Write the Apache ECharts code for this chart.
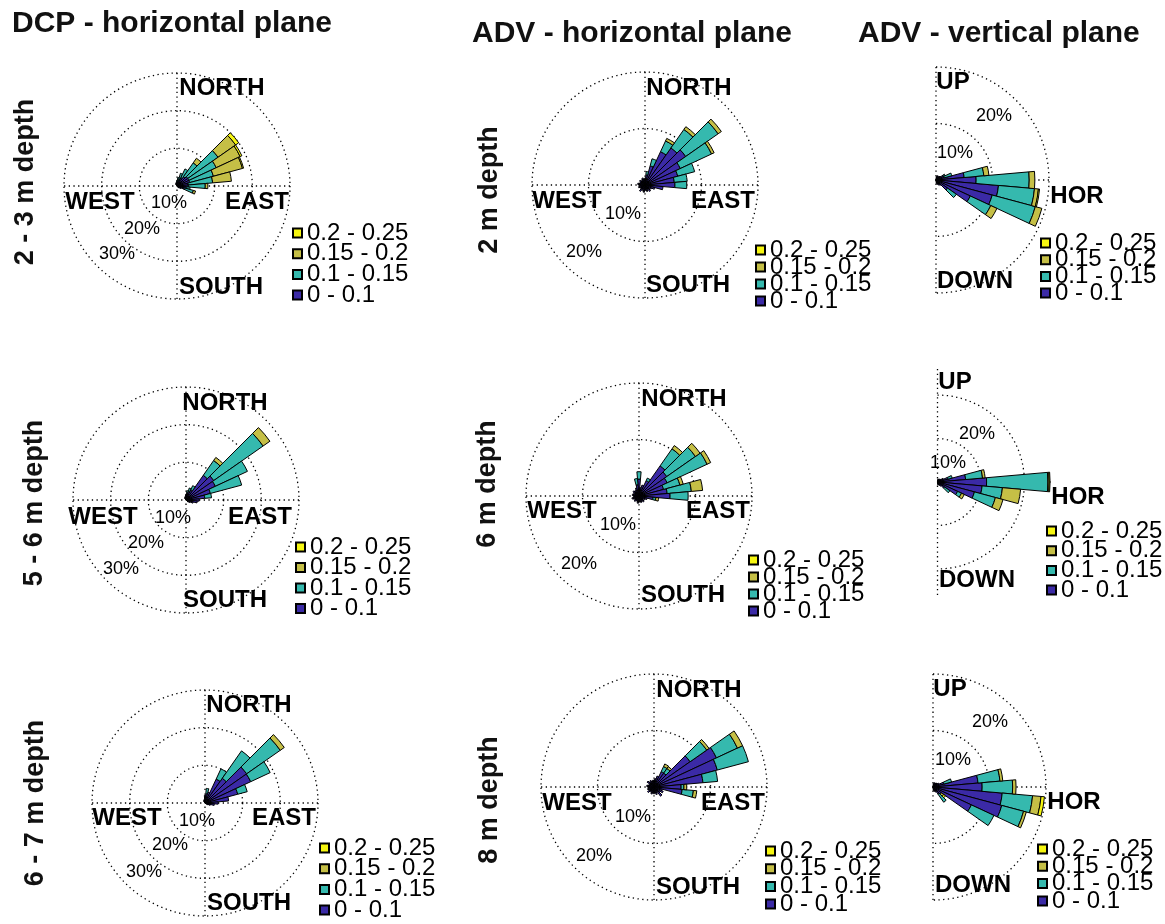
<!DOCTYPE html>
<html><head><meta charset="utf-8">
<script src="https://cdn.jsdelivr.net/npm/echarts@6/dist/echarts.min.js"></script>
<style>html,body{margin:0;padding:0;background:#fff}#c{width:1165px;height:924px}</style>
</head><body><div id="c"></div>
<script>
// ---------- data ----------
const speedClasses = ['0 - 0.1', '0.1 - 0.15', '0.15 - 0.2', '0.2 - 0.25'];
const legendOrder = ['0.2 - 0.25', '0.15 - 0.2', '0.1 - 0.15', '0 - 0.1'];
const dirCategories = [0,10,20,30,40,50,60,70,80,90,100,110,120,130,140,150,160,170,180,190,200,210,220,230,240,250,260,270,280,290,300,310,320,330,340,350];
const allDirs = dirCategories;
const halfDirs = [10,20,30,40,50,60,70,80,90,100,110,120,130,140,150,160,170];

// Panel 1: DCP 2-3 m (horizontal)
const dcp23Dirs = [330,340,350,0,10,20,30,40,50,60,70,80,90,100,110,120,130,140];
const dcp23Slow = [0.6,0.8,1.0,1.2,1.5,2.0,2.5,3.0,3.5,3.5,3.5,3.0,3.0,2.5,2.0,1.2,0.8,0.6];
const dcp23Mid  = [0,0,0,0.3,0.8,1.5,2.5,4.5,9.8,8.0,6.5,6.5,4.5,1.0,2.5,0,0,0];
const dcp23Fast = [0,0,0,0,0,0,0,1.5,5.7,7.0,8.0,5.0,0.7,0,0.6,0,0,0];
const dcp23Top  = [0,0,0,0,0,0,0,0,1.0,0.5,0.3,0,0,0,0,0,0,0];

// Panel 2: ADV 2 m (horizontal)
const advH2Slow = [1.2,1.8,3.5,6.5,8.0,8.8,6.9,6.0,5.2,5.3,3.2,1.8,1.3,1.0,1.4,0.9,1.2,0.8,1.0,1.3,0.8,1.1,1.4,0.9,1.0,1.2,0.8,1.1,1.3,0.9,1.0,1.2,0.8,1.1,1.3,0.9];
const advH2Mid  = [0,0.6,1.3,2.1,4.0,7.0,6.1,3.1,2.3,2.1,0,0,0,0,0,0,0,0,0,0,0,0,0,0,0,0,0,0,0,0,0,0,0,0,0,0];
const advH2Fast = [0,0,0,0.5,0.6,0.7,0.5,0,0,0,0,0,0,0,0,0,0,0,0,0,0,0,0,0,0,0,0,0,0,0,0,0,0,0,0,0];
const advH2Top  = [0,0,0,0,0,0,0,0,0,0,0,0,0,0,0,0,0,0,0,0,0,0,0,0,0,0,0,0,0,0,0,0,0,0,0,0];

// Panel 3: ADV 2 m (vertical, 0 = up, 90 = horizontal, 180 = down)
const advV2Slow = [0.6,0.8,0.7,0.8,1.0,1.5,1.5,5.0,7.1,11.1,10.3,6.7,2.5,1.2,1.0,0.8,0.6];
const advV2Mid  = [0,0,0,0,0,0.3,1.4,3.5,9.4,6.4,7.9,4.0,1.9,0,0,0,0];
const advV2Fast = [0,0,0,0,0,0,0,0.9,1.0,0.7,1.2,1.2,0,0,0,0,0];
const advV2Top  = [0,0,0,0,0,0,0,0,0,0.2,0,0,0,0,0,0,0];

// Panel 4: DCP 5-6 m
const dcp56Dirs = [330,340,350,0,10,20,30,40,50,60,70,80,90,100,110,120,130];
const dcp56Slow = [0.6,0.8,1.0,1.5,2.0,2.5,3.0,8.0,9.0,8.6,6.7,5.0,3.5,3.0,2.0,1.2,0.8];
const dcp56Mid  = [0,0,0,0,0.5,0.8,1.2,4.8,16.0,9.4,8.6,1.8,0,0,0,0,0];
const dcp56Fast = [0,0,0,0,0,0,0,1.0,2.2,0,0,0,0,0,0,0,0];
const dcp56Top  = [0,0,0,0,0,0,0,0,0,0,0,0,0,0,0,0,0];

// Panel 5: ADV 6 m (horizontal)
const advH6Slow = [3.0,1.5,2.0,3.0,6.5,6.0,5.5,4.5,5.0,5.5,2.5,1.5,1.2,0.9,1.3,1.0,1.2,0.8,1.1,1.3,0.9,1.0,1.2,0.8,1.1,1.3,0.9,1.0,1.2,0.8,1.1,1.3,1.0,1.2,1.5,2.0];
const advH6Mid  = [1.3,0,0,0.5,3.7,6.2,7.8,3.0,4.3,3.2,0.5,0,0,0,0,0,0,0,0,0,0,0,0,0,0,0,0,0,0,0,0,0,0,0,0,1.1];
const advH6Fast = [0,0,0,0,0.7,1.0,0.7,0.6,2.0,0,0.5,0,0,0,0,0,0,0,0,0,0,0,0,0,0,0,0,0,0,0,0,0,0,0,0,0];
const advH6Top  = [0,0,0,0,0,0,0,0,0,0,0,0,0,0,0,0,0,0,0,0,0,0,0,0,0,0,0,0,0,0,0,0,0,0,0,0];

// Panel 6: ADV 6 m (vertical)
const advV6Slow = [0.6,0.7,0.8,0.7,1.0,1.5,2.5,6.5,11.3,10.3,8.8,5.1,2.0,1.2,0.9,0.7,0.6];
const advV6Mid  = [0,0,0,0,0,0,1.0,3.9,14.1,4.7,5.0,1.0,1.5,0,0,0,0];
const advV6Fast = [0,0,0,0,0,0,0,0.6,0.3,4.2,1.8,0.7,0,0,0,0,0];
const advV6Top  = [0,0,0,0,0,0,0,0,0.2,0,0,0,0,0,0,0,0];

// Panel 7: DCP 6-7 m
const dcp67Dirs = [330,340,350,0,10,20,30,40,50,60,70,80,90,100,110,120];
const dcp67Slow = [0.6,0.8,1.0,2.0,2.5,3.0,7.0,8.0,13.5,13.4,9.0,6.3,3.5,2.5,1.5,0.8];
const dcp67Mid  = [0,0,0,0,1.4,0,3.0,8.9,10.9,5.7,2.6,0,0,0,0,0];
const dcp67Fast = [0,0,0,0,0,0,0,0,1.3,0,0,0,0,0,0,0];
const dcp67Top  = [0,0,0,0,0,0,0,0,0,0,0,0,0,0,0,0];

// Panel 8: ADV 8 m (horizontal)
const advH8Slow = [1.2,1.5,2.0,3.0,3.0,7.8,12.2,11.6,8.7,4.8,5.0,1.5,1.8,1.3,2.0,1.1,1.4,0.9,1.2,1.0,1.3,0.9,1.1,1.4,1.0,1.2,0.8,1.1,1.3,0.9,1.0,1.5,1.1,1.3,1.0,1.2];
const advH8Mid  = [0,0,0,1.0,1.0,3.6,4.1,5.7,2.6,0.5,2.0,0,0,0,0,0,0,0,0,0,0,0,0,0,0,0,0,0,0,0,0,0,0,0,0,0];
const advH8Fast = [0,0,0,0.5,0.4,0.5,1.0,0,0,0.5,0.6,0,0,0,0,0,0,0,0,0,0,0,0,0,0,0,0,0,0,0,0,0,0,0,0,0];
const advH8Top  = [0,0,0,0,0,0,0,0,0,0,0,0,0,0,0,0,0,0,0,0,0,0,0,0,0,0,0,0,0,0,0,0,0,0,0,0];

// Panel 9: ADV 8 m (vertical)
const advV8Slow = [0.6,0.8,0.7,0.9,1.0,1.2,2.0,8.0,8.7,12.3,12.6,7.5,1.8,1.5,1.0,0.8,0.6];
const advV8Mid  = [0,0,0,0,0,0,1.4,3.9,5.4,5.4,4.0,4.4,0,1.8,0,0,0];
const advV8Fast = [0,0,0,0,0,0,0,0.5,0.6,1.5,0.5,0,0.5,0,0,0,0];
const advV8Top  = [0,0,0,0,0,0,0,0,0,0.6,0,0,0.4,0,0,0,0];

const titles = ['DCP - horizontal plane', 'ADV - horizontal plane', 'ADV - vertical plane'];
const rowLabels = ['2 - 3 m depth', '5 - 6 m depth', '6 - 7 m depth', '2 m depth', '6 m depth', '8 m depth'];

const panels = [
  {dirs: dcp23Dirs, vals: [dcp23Slow, dcp23Mid, dcp23Fast, dcp23Top]},
  {dirs: allDirs,   vals: [advH2Slow, advH2Mid, advH2Fast, advH2Top]},
  {dirs: halfDirs,  vals: [advV2Slow, advV2Mid, advV2Fast, advV2Top]},
  {dirs: dcp56Dirs, vals: [dcp56Slow, dcp56Mid, dcp56Fast, dcp56Top]},
  {dirs: allDirs,   vals: [advH6Slow, advH6Mid, advH6Fast, advH6Top]},
  {dirs: halfDirs,  vals: [advV6Slow, advV6Mid, advV6Fast, advV6Top]},
  {dirs: dcp67Dirs, vals: [dcp67Slow, dcp67Mid, dcp67Fast, dcp67Top]},
  {dirs: allDirs,   vals: [advH8Slow, advH8Mid, advH8Fast, advH8Top]},
  {dirs: halfDirs,  vals: [advV8Slow, advV8Mid, advV8Fast, advV8Top]}
];

// ---------- layout / style ----------
const classColors = ['#3b2aa6', '#35b9ae', '#c5bf46', '#f6f611'];
const FONT = '"Liberation Sans", Arial, Helvetica, sans-serif';
const R = 113;
const LEG_FS = 24;
// leg: [left of legend square, centre y of first row], step: row spacing
const layout = [
  {c:[177,186], max:30, vert:false, leg:[292,233], step:20.7,
   lab:[['NORTH',222,88],['WEST',100,202],['EAST',257,202],['SOUTH',221,287]], pct:[['10%',169,203],['20%',142,229],['30%',117,254]]},
  {c:[645,185], max:20, vert:false, leg:[755,250], step:17,
   lab:[['NORTH',689,88],['WEST',567,201],['EAST',723,201],['SOUTH',688,285]], pct:[['10%',623,214],['20%',584,252]]},
  {c:[936,180], max:20, vert:true, leg:[1040,243], step:16.7,
   lab:[['UP',953,82],['HOR',1077,196],['DOWN',975,281]], pct:[['10%',955,153],['20%',994,116]]},
  {c:[186,500], max:30, vert:false, leg:[295,547], step:20.5,
   lab:[['NORTH',225,403],['WEST',103,517],['EAST',260,517],['SOUTH',225,600]], pct:[['10%',173,518],['20%',146,543],['30%',121,569]]},
  {c:[639,496], max:20, vert:false, leg:[748,560], step:17,
   lab:[['NORTH',684,399],['WEST',562,511],['EAST',718,511],['SOUTH',683,595]], pct:[['10%',618,525],['20%',579,564]]},
  {c:[937.5,482], max:26, vert:true, leg:[1046,531], step:19.7,
   lab:[['UP',955,382],['HOR',1078,497],['DOWN',977,580]], pct:[['10%',948,463],['20%',977,434]]},
  {c:[205,803], max:30, vert:false, leg:[319,848], step:20.7,
   lab:[['NORTH',249,705],['WEST',127,818],['EAST',284,818],['SOUTH',249,903]], pct:[['10%',197,821],['20%',170,845],['30%',144,872]]},
  {c:[654,787], max:20, vert:false, leg:[765,851], step:17.7,
   lab:[['NORTH',699,690],['WEST',577,803],['EAST',733,803],['SOUTH',698,887]], pct:[['10%',633,817],['20%',594,856]]},
  {c:[933,787], max:20, vert:true, leg:[1037,849], step:17.3,
   lab:[['UP',950,689],['HOR',1074,802],['DOWN',973,885]], pct:[['10%',953,760],['20%',990,722]]}
];
const titlePos = [[12,24],[472,34],[858,34]];
const rowPos = [[26,182],[35,503],[36,803],[490,190],[488,484],[490,800]];

function expand(dirs, vals) {
  const out = dirCategories.map(() => '-');
  dirs.forEach((d, j) => { if (vals[j] > 0) out[dirCategories.indexOf(d)] = vals[j]; });
  return out;
}

const polar = [], angleAxis = [], radiusAxis = [], series = [], legend = [], graphic = [];
const dotted = {color:'#000', width:1.3, type:[1.3,3.4]};
layout.forEach((L, i) => {
  polar.push({center: L.c, radius: R});
  const aa = {polarIndex:i, type:'value', min:0, max: L.vert ? 180 : 360, interval:90, startAngle:90, clockwise:true,
    axisLine:{show:false}, axisTick:{show:false}, axisLabel:{show:false}, splitLine:{show:true, lineStyle:dotted}};
  if (L.vert) aa.endAngle = -90;
  angleAxis.push(aa);
  const colors = (L.max % 10) ? ['#000','#000','#000','rgba(0,0,0,0)'] : '#000';
  radiusAxis.push({polarIndex:i, type:'value', min:0, max:L.max, interval:10,
    axisLine:{show:false}, axisTick:{show:false}, axisLabel:{show:false},
    splitLine:{show:true, lineStyle:{color:colors, width:1.3, type:[1.3,3.4]}}});
});
layout.forEach((L, i) => {
  const pi = 9 + i;
  polar.push({center: L.c, radius: R});
  angleAxis.push({polarIndex:pi, type:'category', data:dirCategories, startAngle:95, clockwise:true, show:false});
  radiusAxis.push({polarIndex:pi, type:'value', min:0, max:L.max, show:false});
  const p = panels[i];
  speedClasses.forEach((name, k) => {
    series.push({type:'bar', coordinateSystem:'polar', polarIndex:pi, name, stack:'p'+i,
      data: expand(p.dirs, p.vals[k]), barCategoryGap:'0%', silent:true, emphasis:{disabled:true},
      itemStyle:{color:classColors[k], borderColor:'#000', borderWidth:1}});
  });
  legend.push({data: legendOrder, orient:'vertical', left:L.leg[0], top:L.leg[1] - LEG_FS / 2, height:140, padding:0,
    itemWidth:9, itemHeight:9, itemGap:L.step - LEG_FS, icon:'rect', selectedMode:false,
    textStyle:{fontSize:LEG_FS, color:'#000', fontFamily:FONT}});
  L.lab.forEach(([t,x,y]) => graphic.push({type:'text', x, y, silent:true, z:50,
    style:{text:t, font:'bold 24px ' + FONT, fill:'#000', align:'center', verticalAlign:'middle', textAlign:'center', textVerticalAlign:'middle'}}));
  L.pct.forEach(([t,x,y]) => graphic.push({type:'text', x, y, silent:true, z:50,
    style:{text:t, font:'18px ' + FONT, fill:'#000', align:'center', verticalAlign:'middle', textAlign:'center', textVerticalAlign:'middle'}}));
});
titles.forEach((t, i) => graphic.push({type:'text', x:titlePos[i][0], y:titlePos[i][1], silent:true,
  style:{text:t, font:'bold 30px ' + FONT, fill:'#111', align:'left', verticalAlign:'middle', textAlign:'left', textVerticalAlign:'middle'}}));
rowLabels.forEach((t, i) => graphic.push({type:'text', x:rowPos[i][0], y:rowPos[i][1], rotation:Math.PI/2, silent:true,
  style:{text:t, font:'bold 27px ' + FONT, fill:'#111', align:'center', verticalAlign:'middle', textAlign:'center', textVerticalAlign:'middle'}}));

const chart = echarts.init(document.getElementById('c'), null, {renderer:'canvas'});
chart.setOption({animation:false, backgroundColor:'#fff', polar, angleAxis, radiusAxis, series, legend, graphic});
</script></body></html>
